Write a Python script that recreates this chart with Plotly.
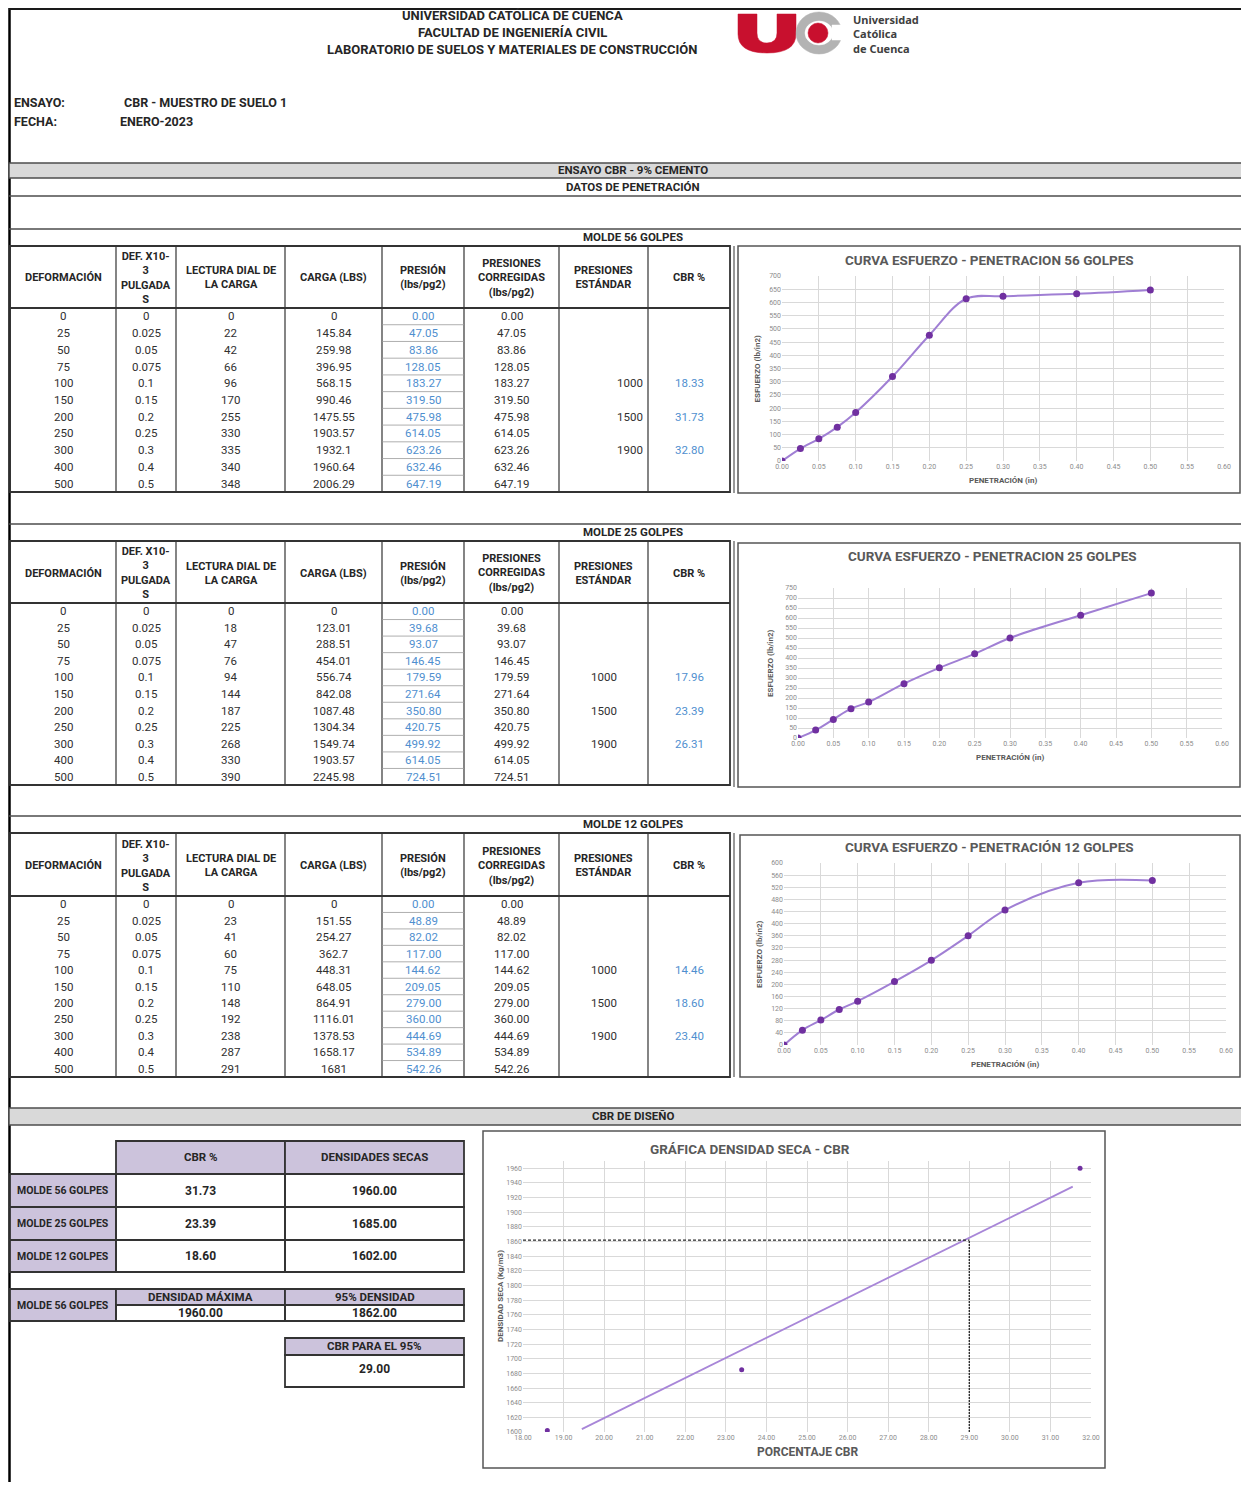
import numpy as np
import plotly.graph_objects as go

# ---------------- DATA ----------------
deformacion = [0, 25, 50, 75, 100, 150, 200, 250, 300, 400, 500]
penetracion = [0, 0.025, 0.05, 0.075, 0.1, 0.15, 0.2, 0.25, 0.3, 0.4, 0.5]

lectura_56 = [0, 22, 42, 66, 96, 170, 255, 330, 335, 340, 348]
carga_56 = [0, 145.84, 259.98, 396.95, 568.15, 990.46, 1475.55, 1903.57, 1932.1, 1960.64, 2006.29]
presion_56 = [0.00, 47.05, 83.86, 128.05, 183.27, 319.50, 475.98, 614.05, 623.26, 632.46, 647.19]

lectura_25 = [0, 18, 47, 76, 94, 144, 187, 225, 268, 330, 390]
carga_25 = [0, 123.01, 288.51, 454.01, 556.74, 842.08, 1087.48, 1304.34, 1549.74, 1903.57, 2245.98]
presion_25 = [0.00, 39.68, 93.07, 146.45, 179.59, 271.64, 350.80, 420.75, 499.92, 614.05, 724.51]

lectura_12 = [0, 23, 41, 60, 75, 110, 148, 192, 238, 287, 291]
carga_12 = [0, 151.55, 254.27, 362.7, 448.31, 648.05, 864.91, 1116.01, 1378.53, 1658.17, 1681]
presion_12 = [0.00, 48.89, 82.02, 117.00, 144.62, 209.05, 279.00, 360.00, 444.69, 534.89, 542.26]

std_rows = [100, 200, 300]
presion_std = [1000, 1500, 1900]
cbr_56 = [18.33, 31.73, 32.80]
cbr_25 = [17.96, 23.39, 26.31]
cbr_12 = [14.46, 18.60, 23.40]

moldes = ["MOLDE 56 GOLPES", "MOLDE 25 GOLPES", "MOLDE 12 GOLPES"]
cbr_diseno = [31.73, 23.39, 18.60]
densidad_seca = [1960.00, 1685.00, 1602.00]
densidad_max = 1960.00
densidad_95 = 1862.00
cbr_95 = 29.00
trend_x = [19.45, 31.55]
trend_y = [1604, 1935]

# ---------------- HELPERS ----------------
# page is 1249x1490; the browser body keeps its default 8px margin,
# so the figure occupies the inner 1233x1474 area.
PAGE_W, PAGE_H, BM = 1249, 1490, 8
W, H = PAGE_W - 2 * BM, PAGE_H - 2 * BM
FONT = "Roboto, 'Liberation Sans', sans-serif"
shapes, annotations = [], []


def X(px):
    return (px - BM) / W


def Y(py):
    return 1 - (py - BM) / H


def hline(y, x0, x1, color="#4d4d4d", w=1.5, dash="solid"):
    shapes.append(dict(type="line", xref="paper", yref="paper", x0=X(x0), x1=X(x1), y0=Y(y), y1=Y(y),
                       line=dict(color=color, width=w, dash=dash)))


def vline(x, y0, y1, color="#333333", w=1.0):
    shapes.append(dict(type="line", xref="paper", yref="paper", x0=X(x), x1=X(x), y0=Y(y0), y1=Y(y1),
                       line=dict(color=color, width=w)))


def rect(x0, y0, x1, y1, fill="rgba(0,0,0,0)", color="#333333", w=1.0, kind="rect"):
    shapes.append(dict(type=kind, xref="paper", yref="paper", x0=X(x0), x1=X(x1), y0=Y(y1), y1=Y(y0),
                       fillcolor=fill, line=dict(color=color, width=w)))


def txt(x, y, s, size=12, color="#262626", bold=False, xanchor="center", angle=0, family=FONT, align="center"):
    annotations.append(dict(x=X(x), y=Y(y), xref="paper", yref="paper",
                            text=f"<b>{s}</b>" if bold else s, showarrow=False,
                            xanchor=xanchor, yanchor="middle", textangle=angle, align=align,
                            font=dict(size=size, color=color, family=family)))


def path(cmds, fill, color=None):
    parts = []
    for c in cmds:
        op, pts = c[0], c[1:]
        parts.append(op + " " + " ".join(f"{X(px):.5f},{Y(py):.5f}" for px, py in pts))
    shapes.append(dict(type="path", xref="paper", yref="paper", path=" ".join(parts) + " Z",
                       fillcolor=fill, line=dict(color=color or fill, width=0.5)))


# ---------------- PAGE FRAME / HEADER ----------------
vline(9.5, 8, 1482, color="#000000", w=2.5)
hline(9, 9, 1241, color="#1a1a1a", w=2)

txt(512, 16, "UNIVERSIDAD CATÓLICA DE CUENCA", size=13, bold=True)
txt(512, 33, "FACULTAD DE INGENIERÍA CIVIL", size=13, bold=True)
txt(512, 50, "LABORATORIO DE SUELOS Y MATERIALES DE CONSTRUCCIÓN", size=13, bold=True)

# logo
path([("M", (738, 14)), ("L", (757, 14)), ("L", (757, 33)), ("Q", (757, 43), (767, 43)),
      ("Q", (777, 43), (777, 33)), ("L", (777, 14)), ("L", (796, 14)), ("L", (796, 34)),
      ("Q", (796, 53), (767, 53)), ("Q", (738, 53), (738, 34))], "#c8102e")
rect(796, 12, 842, 54, fill="#b3b3b3", color="#b3b3b3", w=0.5, kind="circle")
rect(805, 21, 833, 45, fill="white", color="white", w=0.5, kind="circle")
rect(832, 25, 848, 40, fill="white", color="white", w=0.5)
rect(808, 23, 828, 43, fill="#c8102e", color="#c8102e", w=0.5, kind="circle")
txt(851, 34, "Universidad<br>Católica<br>de Cuenca", size=11, bold=True, color="#404040",
    xanchor="left", family="'Noto Sans', sans-serif", align="left")

txt(12, 103, "ENSAYO:", size=12.5, bold=True, xanchor="left")
txt(122, 103, "CBR - MUESTRO DE SUELO 1", size=12.5, bold=True, xanchor="left")
txt(12, 121, "FECHA:", size=12.5, bold=True, xanchor="left")
txt(118, 121, "ENERO-2023", size=12.5, bold=True, xanchor="left")

# bands
rect(9, 163, 1242, 178, fill="#d9d9d9", color="#4d4d4d", w=1.5)
txt(633, 170, "ENSAYO CBR - 9% CEMENTO", size=11.5, bold=True)
txt(633, 187, "DATOS DE PENETRACIÓN", size=11.5, bold=True)
hline(196, 9, 1242)
hline(229, 9, 1242)
txt(633, 237, "MOLDE 56 GOLPES", size=11.5, bold=True)
hline(524, 9, 1242)
txt(633, 532, "MOLDE 25 GOLPES", size=11.5, bold=True)
hline(816, 9, 1242)
txt(633, 824, "MOLDE 12 GOLPES", size=11.5, bold=True)
rect(9, 1108, 1242, 1125, fill="#d9d9d9", color="#4d4d4d", w=1.5)
txt(633, 1116, "CBR DE DISEÑO", size=11.5, bold=True)

# ---------------- PENETRATION TABLES ----------------
COLS = [10, 116, 176, 285, 382, 464, 559, 648, 730]
HDRS = ["DEFORMACIÓN", "DEF. X10-<br>3<br>PULGADA<br>S", "LECTURA DIAL DE<br>LA CARGA", "CARGA (LBS)",
        "PRESIÓN<br>(lbs/pg2)", "PRESIONES<br>CORREGIDAS<br>(lbs/pg2)", "PRESIONES<br>ESTÁNDAR", "CBR %"]
BLUE = "#4f8fcf"


def draw_table(top, hdr_bot, bot, lectura, carga, presion, cbr, std_right):
    for c in COLS[1:-1]:
        vline(c, top, bot, w=1.2)
    rect(COLS[0], top, COLS[-1], bot, w=1.8)
    hline(hdr_bot, COLS[0], COLS[-1], color="#333333", w=1.8)
    for i, h in enumerate(HDRS):
        txt((COLS[i] + COLS[i + 1]) / 2, (top + hdr_bot) / 2 + 1, h, size=11, bold=True)
    n = len(deformacion)
    rh = (bot - hdr_bot) / n
    for r in range(n):
        yc = hdr_bot + rh * (r + 0.5)
        vals = [str(deformacion[r]), f"{penetracion[r]:g}", str(lectura[r]), f"{carga[r]:g}",
                f"{presion[r]:.2f}", f"{presion[r]:.2f}"]
        for i, v in enumerate(vals):
            txt((COLS[i] + COLS[i + 1]) / 2, yc, v, size=11.5, color=BLUE if i == 4 else "#303030")
        if r > 0:
            hline(hdr_bot + rh * r, COLS[4], COLS[5], color="#9a9a9a", w=0.8)
        if deformacion[r] in std_rows:
            k = std_rows.index(deformacion[r])
            if std_right:
                txt(COLS[7] - 3, yc, str(presion_std[k]), size=11.5, color="#303030", xanchor="right")
            else:
                txt((COLS[6] + COLS[7]) / 2, yc, str(presion_std[k]), size=11.5, color="#303030")
            txt((COLS[7] + COLS[8]) / 2, yc, f"{cbr[k]:.2f}", size=11.5, color=BLUE)


draw_table(246, 308, 492, lectura_56, carga_56, presion_56, cbr_56, True)
draw_table(541, 603, 785, lectura_25, carga_25, presion_25, cbr_25, False)
draw_table(833, 896, 1077, lectura_12, carga_12, presion_12, cbr_12, False)

# chart boxes
rect(738, 246, 1240, 493, color="#555555", w=1.5)
rect(738, 543, 1240, 787, color="#555555", w=1.5)
rect(740, 835, 1240, 1077, color="#555555", w=1.5)
rect(483, 1131, 1105, 1468, color="#555555", w=1.5)
vline(734, 246, 493, color="#555555", w=1.2)
vline(734, 541, 787, color="#555555", w=1.2)
vline(734, 833, 1077, color="#555555", w=1.2)

# ---------------- DESIGN TABLES ----------------
LAV = "#ccc3dc"
DX = [10, 116, 285, 464]
rect(DX[1], 1141, DX[2], 1174, fill=LAV, w=1.8)
rect(DX[2], 1141, DX[3], 1174, fill=LAV, w=1.8)
txt((DX[1] + DX[2]) / 2, 1157, "CBR %", size=11.5, bold=True)
txt((DX[2] + DX[3]) / 2, 1157, "DENSIDADES SECAS", size=11.5, bold=True)
rows_y = [1174, 1207, 1240, 1272]
for i, m in enumerate(moldes):
    y0, y1 = rows_y[i], rows_y[i + 1]
    rect(DX[0], y0, DX[1], y1, fill=LAV, w=1.8)
    rect(DX[1], y0, DX[2], y1, w=1.8)
    rect(DX[2], y0, DX[3], y1, w=1.8)
    txt((DX[0] + DX[1]) / 2, (y0 + y1) / 2, m, size=10.5, bold=True)
    txt((DX[1] + DX[2]) / 2, (y0 + y1) / 2, f"{cbr_diseno[i]:.2f}", size=12, bold=True)
    txt((DX[2] + DX[3]) / 2, (y0 + y1) / 2, f"{densidad_seca[i]:.2f}", size=12, bold=True)

rect(DX[0], 1289, DX[1], 1321, fill=LAV, w=1.8)
txt((DX[0] + DX[1]) / 2, 1305, moldes[0], size=10.5, bold=True)
rect(DX[1], 1289, DX[2], 1305, fill=LAV, w=1.8)
rect(DX[2], 1289, DX[3], 1305, fill=LAV, w=1.8)
rect(DX[1], 1305, DX[2], 1321, w=1.8)
rect(DX[2], 1305, DX[3], 1321, w=1.8)
txt((DX[1] + DX[2]) / 2, 1297, "DENSIDAD MÁXIMA", size=11.5, bold=True)
txt((DX[2] + DX[3]) / 2, 1297, "95% DENSIDAD", size=11.5, bold=True)
txt((DX[1] + DX[2]) / 2, 1313, f"{densidad_max:.2f}", size=12, bold=True)
txt((DX[2] + DX[3]) / 2, 1313, f"{densidad_95:.2f}", size=12, bold=True)

rect(DX[2], 1338, DX[3], 1355, fill=LAV, w=1.8)
rect(DX[2], 1355, DX[3], 1387, w=1.8)
txt((DX[2] + DX[3]) / 2, 1346, "CBR PARA EL 95%", size=11.5, bold=True)
txt((DX[2] + DX[3]) / 2, 1369, f"{cbr_95:.2f}", size=12, bold=True)

# ---------------- CHARTS ----------------
fig = go.Figure()
LINE_C = "#a07fd4"
MARK_C = "#7030a0"
GRID = "#d9d9d9"
TICKF = dict(size=7, color="#8c8c8c", family=FONT)
layout_axes = {}


def add_axes(n, xpx, ypx, xr, yr, xd, yd, xfmt, yfmt):
    sfx = "" if n == 1 else str(n)
    layout_axes["xaxis" + sfx] = dict(domain=[X(xpx[0]), X(xpx[1])], range=xr, dtick=xd, tick0=xr[0],
                                      tickformat=xfmt, showgrid=True, gridcolor=GRID, gridwidth=1,
                                      zeroline=False, showline=False, ticks="", tickfont=TICKF,
                                      anchor="y" + sfx, fixedrange=True, automargin=False)
    layout_axes["yaxis" + sfx] = dict(domain=[Y(ypx[1]), Y(ypx[0])], range=yr, dtick=yd, tick0=yr[0],
                                      tickformat=yfmt, showgrid=True, gridcolor=GRID, gridwidth=1,
                                      zeroline=False, showline=False, ticks="", tickfont=TICKF,
                                      anchor="x" + sfx, fixedrange=True, automargin=False)
    return "x" + sfx, "y" + sfx


curves = [
    (presion_56, (782, 1224), (276, 461), [0, 700], 50, "CURVA ESFUERZO - PENETRACION 56 GOLPES", 260, 990, 480, 757),
    (presion_25, (798, 1222), (588, 738), [0, 750], 50, "CURVA ESFUERZO - PENETRACION 25 GOLPES", 556, 993, 757, 771),
    (presion_12, (784, 1226), (863, 1045), [0, 600], 40, "CURVA ESFUERZO - PENETRACIÓN 12 GOLPES", 847, 990, 1064, 759),
]
for i, (pres, xpx, ypx, yr, yd, title, ty, tx, xty, ytx) in enumerate(curves):
    xa, ya = add_axes(i + 1, xpx, ypx, [0, 0.6], yr, 0.05, yd, ".2f", "d")
    fig.add_trace(go.Scatter(x=penetracion, y=pres, xaxis=xa, yaxis=ya, mode="lines+markers",
                             line=dict(color=LINE_C, width=2, shape="spline", smoothing=1.0),
                             marker=dict(color=MARK_C, size=7), showlegend=False, hoverinfo="skip"))
    txt(tx, ty, title, size=13.5, bold=True, color="#595959")
    txt((xpx[0] + xpx[1]) / 2, xty, "PENETRACIÓN (in)", size=8, bold=True, color="#595959")
    txt(ytx, (ypx[0] + ypx[1]) / 2, "ESFUERZO (lb/in2)", size=8, bold=True, color="#595959", angle=-90)

# density - CBR chart
xa, ya = add_axes(4, (523, 1091), (1161, 1432), [18, 32], [1600, 1970], 1, 20, ".2f", "d")
fig.add_trace(go.Scatter(x=trend_x, y=trend_y, xaxis=xa, yaxis=ya, mode="lines",
                         line=dict(color="#a886d8", width=1.8), showlegend=False, hoverinfo="skip"))
fig.add_trace(go.Scatter(x=[18, cbr_95], y=[densidad_95, densidad_95], xaxis=xa, yaxis=ya, mode="lines",
                         line=dict(color="#262626", width=1.3, dash="3px,2px"), showlegend=False, hoverinfo="skip"))
fig.add_trace(go.Scatter(x=[cbr_95, cbr_95], y=[1600, densidad_95], xaxis=xa, yaxis=ya, mode="lines",
                         line=dict(color="#262626", width=1.3, dash="2px,1px"), showlegend=False, hoverinfo="skip"))
fig.add_trace(go.Scatter(x=cbr_diseno, y=densidad_seca, xaxis=xa, yaxis=ya, mode="markers",
                         marker=dict(color=MARK_C, size=5), showlegend=False, hoverinfo="skip"))
txt(750, 1149, "GRÁFICA DENSIDAD SECA - CBR", size=13.5, bold=True, color="#595959")
txt(808, 1452, "PORCENTAJE CBR", size=12, bold=True, color="#595959")
txt(500, 1296, "DENSIDAD SECA (Kg/m3)", size=8, bold=True, color="#595959", angle=-90)

fig.update_layout(width=W, height=H, margin=dict(l=0, r=0, t=0, b=0), paper_bgcolor="white",
                  plot_bgcolor="white", shapes=shapes, annotations=annotations, showlegend=False,
                  font=dict(family=FONT), **layout_axes)

fig.write_html("out.html", config={"displayModeBar": False})
